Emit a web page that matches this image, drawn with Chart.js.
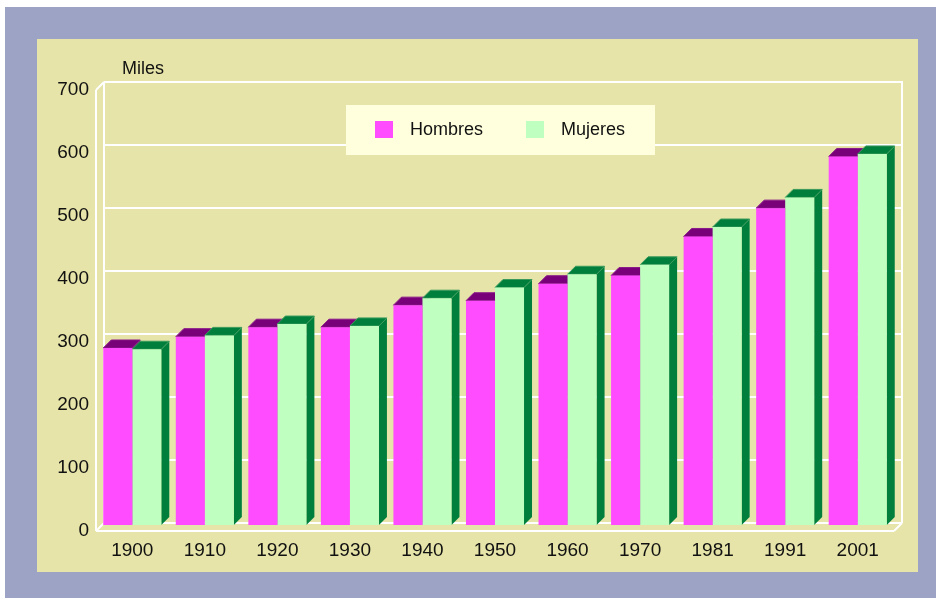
<!DOCTYPE html>
<html>
<head>
<meta charset="utf-8">
<script src="https://cdn.jsdelivr.net/npm/chart.js@4.4.1/dist/chart.umd.min.js"></script>
<style>
  html, body { margin: 0; padding: 0; background: #fff; }
  #outer { position: absolute; left: 5px; top: 7px; width: 931px; height: 591px; background: #9ca3c5; }
  #panel { position: absolute; left: 32px; top: 32px; width: 881px; height: 533px; background: #e6e4a8; }
  canvas { display: block; }
</style>
</head>
<body>
<div id="outer"><div id="panel"><canvas id="chart" width="881" height="533"></canvas></div></div>
<script>
// population in thousands (Miles)
const years = ["1900", "1910", "1920", "1930", "1940", "1950", "1960", "1970", "1981", "1991", "2001"];
const hombres = [281, 299, 314, 314, 349, 356, 383, 396, 458, 503, 585];
const mujeres = [279, 301, 319, 316, 360, 377, 398, 413, 473, 520, 589];
const yMax = 700;
const yStep = 100;

const DX = 8, DY = 8; // depth of the 3d effect
const FONT = "'Liberation Sans', Arial, sans-serif";

function seg(ctx, x1, y1, x2, y2) {
  ctx.beginPath();
  ctx.moveTo(x1, y1);
  ctx.lineTo(x2, y2);
  ctx.stroke();
}

const wall3d = {
  id: "wall3d",
  beforeDatasetsDraw(chart) {
    const ctx = chart.ctx;
    const a = chart.chartArea;
    const y = chart.scales.y;
    ctx.save();
    ctx.strokeStyle = "#ffffff";
    ctx.lineWidth = 2;
    // back wall grid
    y.ticks.forEach(t => {
      const py = y.getPixelForValue(t.value) - DY;
      seg(ctx, a.left + DX, py, a.right + DX, py);
    });
    seg(ctx, a.left + DX, a.top - DY, a.left + DX, a.bottom - DY);
    seg(ctx, a.right + DX, a.top - DY - 1, a.right + DX, a.bottom - DY);
    // left wall + floor
    seg(ctx, a.left, a.top, a.left, a.bottom);
    seg(ctx, a.left, a.top, a.left + DX, a.top - DY);
    seg(ctx, a.left, a.bottom, a.right, a.bottom);
    seg(ctx, a.left, a.bottom, a.left + DX, a.bottom - DY);
    seg(ctx, a.right, a.bottom, a.right + DX, a.bottom - DY);

    // top and side faces of the bars
    chart.data.datasets.forEach((ds, i) => {
      const meta = chart.getDatasetMeta(i);
      meta.data.forEach(bar => {
        const p = bar.getProps(["x", "y", "base", "width"], true);
        const l = p.x - p.width / 2, r = p.x + p.width / 2;
        ctx.fillStyle = ds.darkColor;
        ctx.strokeStyle = ds.edgeColor;
        ctx.lineWidth = 1;
        ctx.beginPath();
        ctx.moveTo(r, p.y);
        ctx.lineTo(r + DX, p.y - DY);
        ctx.lineTo(r + DX, p.base - DY);
        ctx.lineTo(r, p.base);
        ctx.closePath();
        ctx.fill();
        ctx.beginPath();
        ctx.moveTo(l, p.y);
        ctx.lineTo(l + DX, p.y - DY);
        ctx.lineTo(r + DX, p.y - DY);
        ctx.lineTo(r, p.y);
        ctx.closePath();
        ctx.fill();
        ctx.stroke();
      });
    });
    ctx.restore();
  },
  afterDraw(chart) {
    const ctx = chart.ctx;
    const a = chart.chartArea;
    ctx.save();
    ctx.font = "18px " + FONT;
    ctx.fillStyle = "#111";
    ctx.textBaseline = "middle";
    ctx.textAlign = "left";
    ctx.fillText("Miles", a.left + 26, a.top - 21);

    // legend box
    const bx = a.left + 250, by = a.top + 15;
    ctx.fillStyle = "#ffffdd";
    ctx.fillRect(bx, by, 309, 50);
    const offs = [29, 180];
    chart.data.datasets.forEach((ds, i) => {
      ctx.fillStyle = ds.backgroundColor;
      ctx.fillRect(bx + offs[i], by + 16, 18, 17);
      ctx.fillStyle = "#111";
      ctx.fillText(ds.label, bx + offs[i] + 35, by + 25);
    });
    ctx.restore();
  }
};

const tickFont = { family: FONT, size: 19 };

new Chart(document.getElementById("chart"), {
  type: "bar",
  data: {
    labels: years,
    datasets: [
      {
        label: "Hombres",
        data: hombres,
        backgroundColor: "#ff4cff",
        darkColor: "#780078",
        edgeColor: "#8a1a8a",
        yAxisID: "yb",
        categoryPercentage: 0.8,
        barPercentage: 1.0
      },
      {
        label: "Mujeres",
        data: mujeres,
        backgroundColor: "#bfffbf",
        darkColor: "#007f3c",
        edgeColor: "#3a9a5c",
        yAxisID: "yb",
        categoryPercentage: 0.8,
        barPercentage: 1.0
      }
    ]
  },
  options: {
    responsive: false,
    animation: false,
    devicePixelRatio: 1,
    layout: { padding: { top: 51, right: 24, left: 0, bottom: 0 } },
    plugins: {
      legend: { display: false },
      tooltip: { enabled: false }
    },
    scales: {
      x: {
        grid: { display: false, drawTicks: false },
        border: { display: false },
        ticks: { padding: 8, color: "#111", font: tickFont, maxRotation: 0 },
        afterFit(s) { s.height = 41; }
      },
      y: {
        position: "left",
        min: 0,
        max: yMax,
        grid: { display: false, drawTicks: false },
        border: { display: false },
        ticks: { stepSize: yStep, padding: 7, color: "#111", font: tickFont },
        afterFit(s) { s.width = 59; }
      },
      yb: {
        display: false,
        min: -9.5,
        max: yMax - 9.5
      }
    }
  },
  plugins: [wall3d]
});
</script>
</body>
</html>
